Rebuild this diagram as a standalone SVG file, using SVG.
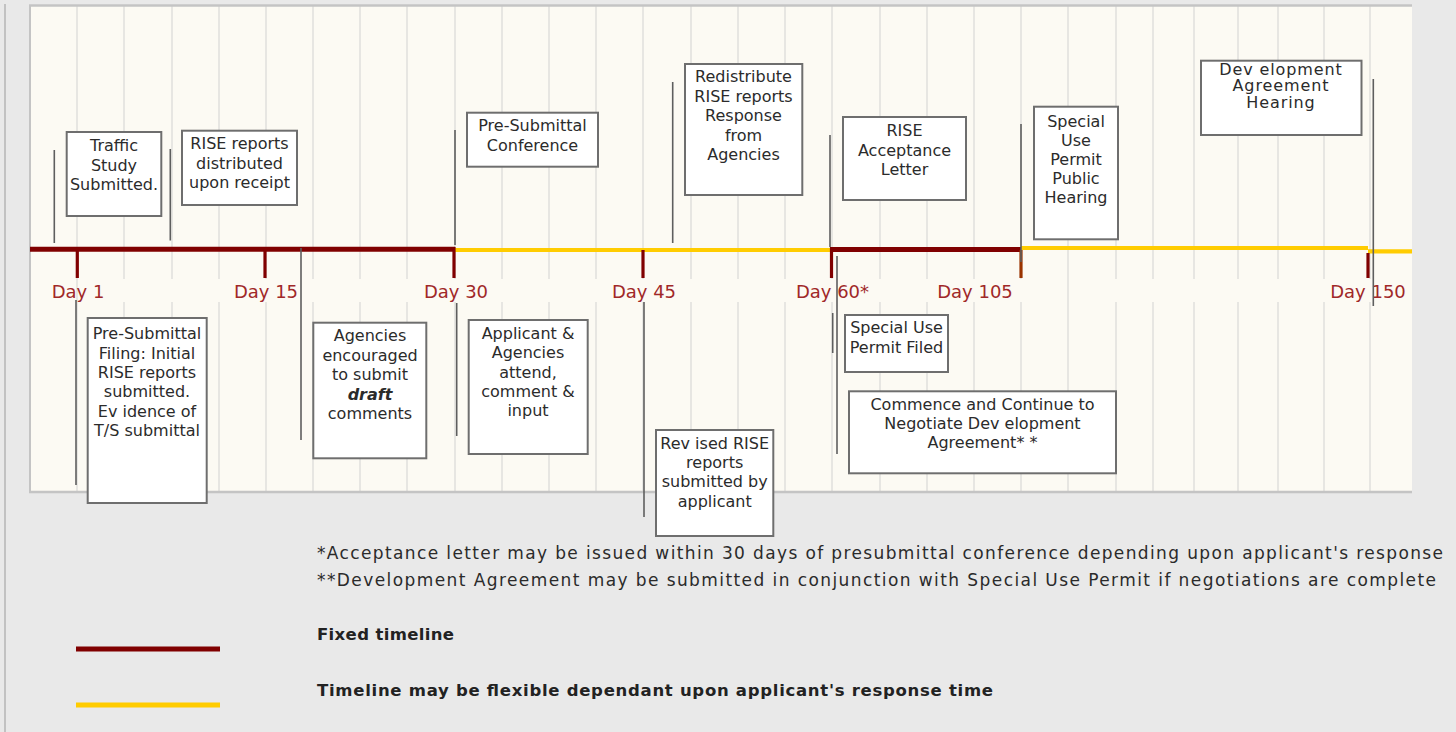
<svg xmlns="http://www.w3.org/2000/svg" width="1456" height="732" viewBox="0 0 1456 732">
<style>
  .grid { stroke: #e7e6e2; stroke-width: 2; }
  .box { fill: #ffffff; stroke: #6e6e6e; stroke-width: 2; }
  .bt { font-family: "DejaVu Sans", "Liberation Sans", sans-serif; font-size: 16px; fill: #2b2b2b; text-anchor: middle; }
  .day { font-family: "DejaVu Sans", "Liberation Sans", sans-serif; font-size: 18px; fill: #a02828; text-anchor: middle; }
  .note { font-family: "DejaVu Sans", "Liberation Sans", sans-serif; font-size: 17px; fill: #2b2b2b; }
  .leg { font-family: "DejaVu Sans", "Liberation Sans", sans-serif; font-size: 16.5px; font-weight: bold; fill: #222; }
  .lead { stroke: #5e5e5e; stroke-width: 1.6; }
  .fixed { stroke: #800000; stroke-width: 5; fill: none; }
  .flex { stroke: #ffcc00; stroke-width: 4.2; fill: none; }
  .tick { stroke: #800000; stroke-width: 3.2; }
</style>
<rect x="0" y="0" width="1456" height="732" fill="#e9e9e9"/>
<line x1="5" y1="4" x2="5" y2="732" stroke="#c2c2c2" stroke-width="2"/>
<g id="chart-area">
  <rect x="30" y="5" width="1382" height="487" fill="#fcfaf3"/>
  <g id="grid">
    <path class="grid" d="M77,6V491 M124,6V279 M124,302V491 M172,6V279 M172,302V491 M219,6V279 M219,302V491 M266,6V279 M266,302V491 M313,6V279 M313,302V491 M360,6V279 M360,302V491 M407,6V279 M407,302V491 M455,6V279 M455,302V491 M502,6V279 M502,302V491 M549,6V279 M549,302V491 M596,6V279 M596,302V491 M643,6V279 M643,302V491 M691,6V279 M691,302V491 M738,6V279 M738,302V491 M785,6V279 M785,302V491 M832,6V279 M832,302V491 M880,6V279 M880,302V491 M927,6V279 M927,302V491 M974,6V279 M974,302V491 M1021,6V279 M1021,302V491 M1068,6V491 M1116,6V279 M1116,302V491 M1153,6V279 M1153,302V491 M1194,6V279 M1194,302V491 M1238,6V279 M1238,302V491 M1278,6V279 M1278,302V491 M1324,6V279 M1324,302V491 M1370,6V279 M1370,302V491"/>
  </g>
  <line x1="29" y1="5.5" x2="1412" y2="5.5" stroke="#c4c4c4" stroke-width="2.4"/>
  <line x1="30" y1="5" x2="30" y2="492" stroke="#c4c4c4" stroke-width="2"/>
  <line x1="29" y1="492" x2="1412" y2="492" stroke="#c4c4c4" stroke-width="2.4"/>
</g>
<g id="timeline">
  <line class="fixed" x1="30" y1="249.3" x2="455" y2="249.3"/>
  <line class="flex" x1="455" y1="250" x2="831" y2="250"/>
  <line class="fixed" x1="830" y1="249.5" x2="1021" y2="249.5"/>
  <line class="flex" x1="1021" y1="248" x2="1368" y2="248"/>
  <line class="flex" x1="1368" y1="251.3" x2="1412" y2="251.3"/>
  <line class="tick" x1="77.3" y1="249" x2="77.3" y2="278"/>
  <line class="tick" x1="265" y1="249" x2="265" y2="278"/>
  <line class="tick" x1="454" y1="247" x2="454" y2="278"/>
  <line class="tick" x1="643" y1="250" x2="643" y2="278"/>
  <line class="tick" x1="831.5" y1="247" x2="831.5" y2="278"/>
  <line x1="1021" y1="250" x2="1021" y2="278" stroke="#993300" stroke-width="3.2"/>
  <line class="tick" x1="1368" y1="253" x2="1368" y2="278"/>
</g>
<g id="day-labels">
  <text class="day" x="78" y="298">Day 1</text>
  <text class="day" x="266" y="298">Day 15</text>
  <text class="day" x="456" y="298">Day 30</text>
  <text class="day" x="644" y="298">Day 45</text>
  <text class="day" x="832.5" y="298">Day 60*</text>
  <text class="day" x="975" y="298">Day 105</text>
  <text class="day" x="1368" y="298">Day 150</text>
</g>
<g id="connectors">
  <line class="lead" x1="54.3" y1="150" x2="54.3" y2="243"/>
  <line class="lead" x1="170.3" y1="149" x2="170.3" y2="240.5"/>
  <line class="lead" x1="455" y1="130" x2="455" y2="245"/>
  <line class="lead" x1="672.7" y1="82" x2="672.7" y2="243"/>
  <line class="lead" x1="830" y1="135" x2="830" y2="247"/>
  <line class="lead" x1="1021" y1="124" x2="1021" y2="262"/>
  <line class="lead" x1="1373.3" y1="79" x2="1373.3" y2="306"/>
  <line class="lead" x1="76" y1="300" x2="76" y2="485"/>
  <line class="lead" x1="301" y1="248" x2="301" y2="440"/>
  <line class="lead" x1="456.7" y1="303" x2="456.7" y2="436"/>
  <line class="lead" x1="644" y1="302" x2="644" y2="517"/>
  <line class="lead" x1="837" y1="256" x2="837" y2="454"/>
  <line class="lead" x1="832.7" y1="313" x2="832.7" y2="353"/>
</g>
<g id="traffic-study">
  <rect class="box" x="66.7" y="132" width="94.6" height="84"/>
  <text class="bt" x="114" y="151">Traffic</text>
  <text class="bt" x="114" y="170.5">Study</text>
  <text class="bt" x="114" y="190">Submitted.</text>
</g>
<g id="rise-distributed">
  <rect class="box" x="182" y="130.7" width="115" height="74.3"/>
  <text class="bt" x="239.5" y="149">RISE reports</text>
  <text class="bt" x="239.5" y="168.5">distributed</text>
  <text class="bt" x="239.5" y="188">upon receipt</text>
</g>
<g id="pre-submittal-filing">
  <rect class="box" x="87.7" y="318" width="119" height="185"/>
  <text class="bt" x="147" y="339.3">Pre-Submittal</text>
  <text class="bt" x="147" y="358.6">Filing: Initial</text>
  <text class="bt" x="147" y="377.9">RISE reports</text>
  <text class="bt" x="147" y="397.2">submitted.</text>
  <text class="bt" x="147" y="416.5">Ev idence of</text>
  <text class="bt" x="147" y="435.8">T/S submittal</text>
</g>
<g id="agencies-draft">
  <rect class="box" x="313.3" y="322.7" width="113" height="135.6"/>
  <text class="bt" x="370" y="341">Agencies</text>
  <text class="bt" x="370" y="360.5">encouraged</text>
  <text class="bt" x="370" y="380">to submit</text>
  <text class="bt" x="370" y="399.5" font-weight="bold" font-style="italic" fill="#111">draft</text>
  <text class="bt" x="370" y="419">comments</text>
</g>
<g id="pre-submittal-conference">
  <rect class="box" x="467" y="112.7" width="131" height="54"/>
  <text class="bt" x="532.5" y="131">Pre-Submittal</text>
  <text class="bt" x="532.5" y="151">Conference</text>
</g>
<g id="applicant-agencies">
  <rect class="box" x="468.7" y="320" width="119" height="134"/>
  <text class="bt" x="528" y="338.5">Applicant &amp;</text>
  <text class="bt" x="528" y="358">Agencies</text>
  <text class="bt" x="528" y="377.5">attend,</text>
  <text class="bt" x="528" y="397">comment &amp;</text>
  <text class="bt" x="528" y="416">input</text>
</g>
<g id="redistribute">
  <rect class="box" x="685" y="64" width="117.3" height="131"/>
  <text class="bt" x="743.5" y="82">Redistribute</text>
  <text class="bt" x="743.5" y="101.5">RISE reports</text>
  <text class="bt" x="743.5" y="121">Response</text>
  <text class="bt" x="743.5" y="140.5">from</text>
  <text class="bt" x="743.5" y="160">Agencies</text>
</g>
<g id="revised-rise">
  <rect class="box" x="656" y="430" width="117.3" height="106"/>
  <text class="bt" x="714.7" y="449">Rev ised RISE</text>
  <text class="bt" x="714.7" y="468">reports</text>
  <text class="bt" x="714.7" y="487.3">submitted by</text>
  <text class="bt" x="714.7" y="506.7">applicant</text>
</g>
<g id="rise-acceptance">
  <rect class="box" x="843" y="117" width="123" height="83"/>
  <text class="bt" x="904.5" y="136">RISE</text>
  <text class="bt" x="904.5" y="155.5">Acceptance</text>
  <text class="bt" x="904.5" y="175">Letter</text>
</g>
<g id="sup-filed">
  <rect class="box" x="845" y="315" width="103" height="57"/>
  <text class="bt" x="896.5" y="333.3" font-size="15.5">Special Use</text>
  <text class="bt" x="896.5" y="352.7" font-size="15.5">Permit Filed</text>
</g>
<g id="negotiate-da">
  <rect class="box" x="849" y="391.3" width="267" height="82"/>
  <text class="bt" x="982.5" y="410">Commence and Continue to</text>
  <text class="bt" x="982.5" y="429">Negotiate Dev elopment</text>
  <text class="bt" x="982.5" y="448.3">Agreement* *</text>
</g>
<g id="sup-hearing">
  <rect class="box" x="1034" y="106.7" width="84" height="132.6"/>
  <text class="bt" x="1076" y="126.7">Special</text>
  <text class="bt" x="1076" y="145.7">Use</text>
  <text class="bt" x="1076" y="164.7">Permit</text>
  <text class="bt" x="1076" y="184">Public</text>
  <text class="bt" x="1076" y="203.3">Hearing</text>
</g>
<g id="da-hearing">
  <rect class="box" x="1201" y="60.7" width="160.5" height="74.3"/>
  <text class="bt" x="1281" y="74.5" font-size="14" letter-spacing="0.9">Dev elopment</text>
  <text class="bt" x="1281" y="91" font-size="14" letter-spacing="0.9">Agreement</text>
  <text class="bt" x="1281" y="107.5" font-size="14" letter-spacing="0.9">Hearing</text>
</g>
<g id="footnotes">
  <text class="note" x="317" y="559" textLength="1126" lengthAdjust="spacing">*Acceptance letter may be issued within 30 days of presubmittal conference depending upon applicant's response</text>
  <text class="note" x="317" y="586" textLength="1119" lengthAdjust="spacing">**Development Agreement may be submitted in conjunction with Special Use Permit if negotiations are complete</text>
</g>
<g id="legend">
  <line x1="76" y1="649" x2="220" y2="649" stroke="#800000" stroke-width="5"/>
  <text class="leg" x="317" y="640" textLength="137" lengthAdjust="spacing">Fixed timeline</text>
  <line x1="76" y1="705" x2="220" y2="705" stroke="#ffcc00" stroke-width="5"/>
  <text class="leg" x="317" y="696" textLength="676" lengthAdjust="spacing">Timeline may be flexible dependant upon applicant's response time</text>
</g>
</svg>
